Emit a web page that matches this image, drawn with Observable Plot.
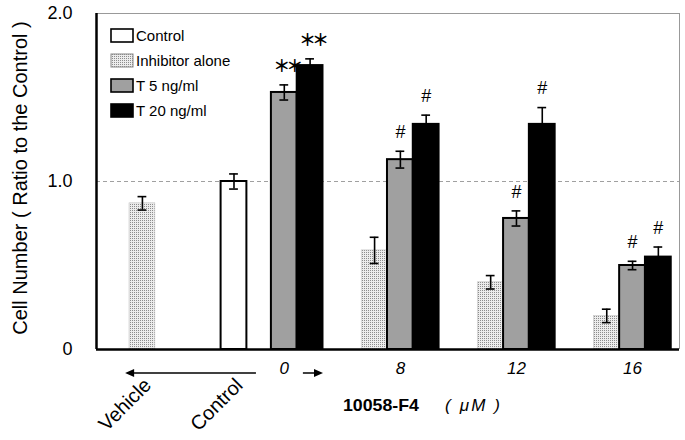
<!DOCTYPE html>
<html>
<head>
<meta charset="utf-8">
<script src="https://cdn.jsdelivr.net/npm/d3@7"></script>
<script src="https://cdn.jsdelivr.net/npm/@observablehq/plot@0.6"></script>
<style>
  body { margin: 0; background: #fff; }
  #chart svg { display: block; }
</style>
</head>
<body>
<div id="chart"></div>
<script>
// ---- data ----
const doses = ["0", "8", "12", "16"];
const seriesNames = ["Control", "Inhibitor alone", "T 5 ng/ml", "T 20 ng/ml"];
const sideLabels = ["Vehicle", "Control"];

const vehicleInhibitor = 0.87, vehicleInhibitorErr = 0.04;
const controlValue = 1.00, controlErr = 0.045;

const inhibitorValues = [null, 0.59, 0.40, 0.20];
const inhibitorErrors = [null, 0.078, 0.04, 0.04];
const t5Values = [1.53, 1.13, 0.78, 0.50];
const t5Errors = [0.045, 0.05, 0.045, 0.025];
const t20Values = [1.69, 1.34, 1.34, 0.55];
const t20Errors = [0.04, 0.055, 0.10, 0.06];
const t5Sig = ["＊＊", "#", "#", "#"];
const t20Sig = ["＊＊", "#", "#", "#"];

const yTicks = [0, 1, 2];
const yTickLabels = ["0", "1.0", "2.0"];

// ---- layout helpers (slot units) ----
const groupBase = g => 4.5 * (g + 1);
const vehicleSlot = 0, controlSlot = 3.55;
const xMin = -1.28, xMax = 21.32;

const rows = [];
rows.push({u: vehicleSlot, value: vehicleInhibitor, err: vehicleInhibitorErr, series: "Inhibitor alone", sig: null});
rows.push({u: controlSlot, value: controlValue, err: controlErr, series: "Control", sig: null});
doses.forEach((d, g) => {
  if (inhibitorValues[g] != null)
    rows.push({u: groupBase(g), value: inhibitorValues[g], err: inhibitorErrors[g], series: "Inhibitor alone", sig: null});
  rows.push({u: groupBase(g) + 1, value: t5Values[g], err: t5Errors[g], series: "T 5 ng/ml", sig: t5Sig[g]});
  rows.push({u: groupBase(g) + 2, value: t20Values[g], err: t20Errors[g], series: "T 20 ng/ml", sig: t20Sig[g]});
});

const styleOf = {
  "Control": {fill: "#ffffff", stroke: "#000", strokeWidth: 2},
  "Inhibitor alone": {fill: "#d4d4d4", stroke: "#c4c4c4", strokeWidth: 0.6},
  "T 5 ng/ml": {fill: "#a0a0a0", stroke: "#000", strokeWidth: 2},
  "T 20 ng/ml": {fill: "#000000", stroke: "#000", strokeWidth: 2}
};

const font = "'Liberation Sans', Arial, sans-serif";

const barMarks = seriesNames.map(s =>
  Plot.rectY(rows.filter(r => r.series === s), {
    x1: d => d.u, x2: d => d.u + 1, y1: 0, y2: "value",
    ...styleOf[s]
  })
);

const capHalf = 0.17;
const chart = Plot.plot({
  width: 685,
  height: 440,
  marginTop: 13,
  marginBottom: 91,
  marginLeft: 96,
  marginRight: 6,
  style: {fontFamily: font, background: "#fff", color: "#000"},
  x: {domain: [xMin, xMax], axis: null},
  y: {domain: [0, 2], axis: null},
  marks: [
    Plot.ruleY([1], {stroke: "#888", strokeWidth: 0.8, strokeDasharray: "4,3"}),
    Plot.ruleY([2], {stroke: "#999", strokeWidth: 1}),
    Plot.ruleX([xMax], {stroke: "#999", strokeWidth: 1}),
    ...barMarks,
    Plot.ruleX(rows, {x: d => d.u + 0.5, y1: d => d.value - d.err, y2: d => d.value + d.err, stroke: "#000", strokeWidth: 1.6}),
    Plot.ruleY(rows, {y: d => d.value + d.err, x1: d => d.u + 0.5 - capHalf, x2: d => d.u + 0.5 + capHalf, stroke: "#000", strokeWidth: 1.6}),
    Plot.ruleY(rows, {y: d => d.value - d.err, x1: d => d.u + 0.5 - capHalf, x2: d => d.u + 0.5 + capHalf, stroke: "#000", strokeWidth: 1.6}),
    Plot.text(rows.filter(r => r.sig === "#"), {x: d => d.u + 0.5, y: d => d.value + d.err, text: "sig", dy: -19, fontSize: 18, fill: "#000"}),
    Plot.text(rows.filter(r => r.sig && r.sig !== "#"), {x: d => d.u + 0.5, y: d => d.value + d.err, text: "sig", dy: -18, fontSize: 17, fontWeight: "bold", fontFamily: "'Noto Sans CJK JP', sans-serif", fill: "#000"}),
    Plot.axisY({ticks: yTicks, tickFormat: (d, i) => yTickLabels[yTicks.indexOf(d)], tickSize: 0, tickPadding: 24, fontSize: 18, label: null}),
    Plot.ruleX([xMin], {stroke: "#000", strokeWidth: 2.5}),
    Plot.ruleY([0], {stroke: "#000", strokeWidth: 2.5}),
    Plot.text(doses, {x: (d, i) => groupBase(i) + 1.5, frameAnchor: "bottom", dy: 24, text: d => d, fontSize: 17, fontStyle: "italic", fill: "#000"}),
    Plot.text(sideLabels, {x: (d, i) => [vehicleSlot, controlSlot][i] + 0.5, frameAnchor: "bottom", dx: 10, dy: 37, text: d => d, rotate: -45, textAnchor: "end", fontSize: 20, fill: "#000"})
  ]
});

document.getElementById("chart").appendChild(chart);

// ---- post-processing: pattern, legend, arrows, titles ----
const svg = d3.select(chart);
const defs = svg.insert("defs", ":first-child");
const pat = defs.append("pattern").attr("id", "dots").attr("width", 2).attr("height", 2).attr("patternUnits", "userSpaceOnUse");
pat.append("rect").attr("width", 2).attr("height", 2).attr("fill", "#ececec");
pat.append("rect").attr("width", 1).attr("height", 1).attr("fill", "#8c8c8c");
svg.selectAll('[fill="#d4d4d4"]').attr("fill", "url(#dots)");
svg.selectAll("text").filter(function () { return this.textContent === "＊＊"; })
  .attr("letter-spacing", "-4px").attr("dx", 2);

const xs = chart.scale("x"), ys = chart.scale("y");
const px = u => xs.apply(u);
const bottomY = ys.apply(0);
const arrowY = bottomY + 24;

// left arrow (Control ... Vehicle)
const la1 = px(4.92), la2 = px(-0.15);
svg.append("line").attr("x1", la1).attr("x2", la2 + 7).attr("y1", arrowY).attr("y2", arrowY).attr("stroke", "#000").attr("stroke-width", 1.5);
svg.append("path").attr("d", `M${la2},${arrowY} l9,-4 l0,8 z`).attr("fill", "#000");
// right arrow after 0
const ra1 = px(6.74), ra2 = px(7.52);
svg.append("line").attr("x1", ra1).attr("x2", ra2 - 7).attr("y1", arrowY).attr("y2", arrowY).attr("stroke", "#000").attr("stroke-width", 1.5);
svg.append("path").attr("d", `M${ra2},${arrowY} l-9,-4 l0,8 z`).attr("fill", "#000");

// x title
const xt = svg.append("text").attr("y", bottomY + 62).attr("text-anchor", "start").attr("font-family", font).attr("font-size", 17).attr("fill", "#000");
xt.append("tspan").attr("x", 343).attr("font-weight", "bold").attr("textLength", 76).attr("lengthAdjust", "spacingAndGlyphs").text("10058-F4");
xt.append("tspan").attr("x", 445).attr("font-style", "italic").attr("textLength", 55).attr("lengthAdjust", "spacing").text("( μM )");

// y title
svg.append("text")
  .attr("transform", "translate(20,178) rotate(-90)")
  .attr("text-anchor", "middle").attr("dy", "0.35em")
  .attr("font-family", font).attr("font-size", 20).attr("fill", "#000")
  .text("Cell Number ( Ratio to the Control )");

// legend
const legendFill = {
  "Control": "#ffffff",
  "Inhibitor alone": "url(#dots)",
  "T 5 ng/ml": "#a0a0a0",
  "T 20 ng/ml": "#000000"
};
const lg = svg.append("g").attr("font-family", font).attr("font-size", 15).attr("fill", "#000").attr("text-anchor", "start");
seriesNames.forEach((s, i) => {
  const y0 = 29 + i * 25;
  lg.append("rect").attr("x", 111).attr("y", y0).attr("width", 22).attr("height", 13)
    .attr("fill", legendFill[s]).attr("stroke", s === "Inhibitor alone" ? "#888" : "#000").attr("stroke-width", s === "Inhibitor alone" ? 1 : 1.6);
  lg.append("text").attr("x", 136).attr("y", y0 + 6.5).attr("dy", "0.35em").attr("fill", "#000").text(s);
});
</script>
</body>
</html>
